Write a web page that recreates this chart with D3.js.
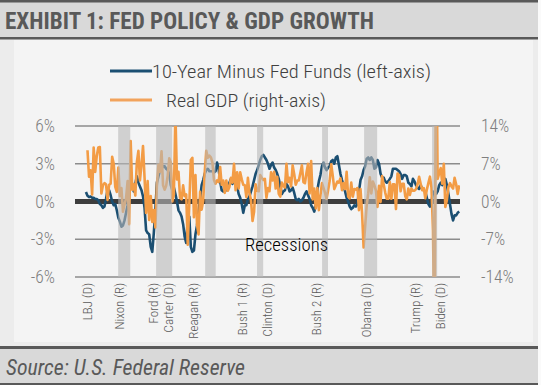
<!DOCTYPE html>
<html><head><meta charset="utf-8">
<script src="https://cdn.jsdelivr.net/npm/d3@7"></script>
<style>
html,body{margin:0;padding:0;background:#fafafa;}
svg{display:block;}
text{font-family:"Liberation Sans Narrow","Roboto Condensed","Arial Narrow",Roboto,sans-serif;}
</style></head>
<body><svg id="c" width="541" height="385"></svg>
<script>
// ---- data ----
const titleText = "EXHIBIT 1: FED POLICY & GDP GROWTH";
const sourceText = "Source: U.S. Federal Reserve";
const seriesNames = ["10-Year Minus Fed Funds (left-axis)", "Real GDP (right-axis)"];
const leftTicks = [6, 3, 0, -3, -6];
const rightTicks = [14, 7, 0, -7, -14];
// 10-year minus fed funds, quarterly, starting 1963 Q4 (%)
const spreadStart = 1963.75;
const spreadValues = [
 0.75,
 0.45,0.35,0.4,0.3, 0.3,0.2,0.2,0.1, -0.2,-0.3,-0.5,-0.4, 0.2,0.9,0.9,0.5,
 0.0,-0.3,-0.2,-0.7, -1.3,-1.6,-2.0,-1.9, -1.5,-0.9,-0.3,0.5, 1.8,1.4,0.8,1.4,
 2.0,1.5,1.2,0.9, 0.4,-0.5,-2.3,-2.5, -2.6,-3.6,-4.0,-2.5, -0.6,1.5,2.0,2.5,
 2.6,2.8,2.8,2.6, 2.5,2.2,1.3,0.9, 1.1,0.6,0.0,-0.7, -0.9,-1.2,-1.8,-2.8,
 -3.3,-1.4,-1.2,-3.6, -4.0,-3.9,-2.6,-1.9, -0.8,0.2,1.3,1.7, 2.2,2.5,2.6,2.4,
 2.4,2.4,2.3,2.4, 3.1,2.6,1.6,0.9, 0.8,1.0,0.9,1.2, 1.5,1.8,1.4,1.7,
 1.4,1.2,0.6,0.3, -0.2,-0.9,-0.3,-0.3, 0.2,0.4,0.8,1.2, 1.7,2.2,2.5,2.9,
 3.3,3.6,3.7,3.5, 3.3,3.0,2.6,2.9, 3.1,2.7,2.5,2.2, 1.8,1.2,0.6,0.8,
 0.9,1.4,1.2,0.8, 0.9,1.1,0.7,0.2, 0.1,0.2,0.0,0.1, 0.3,0.6,0.8,0.5,
 0.2,-0.3,-0.5,-0.8, -0.3,0.9,1.6,2.1, 2.8,3.1,2.7,2.5, 2.7,2.8,3.2,3.3,
 3.0,3.5,3.6,2.9, 2.2,1.7,1.3,0.8, 0.3,0.0,-0.4,-0.6, -0.5,-0.3,-0.4,-0.2,
 0.8,1.7,2.0,2.5, 2.8,3.4,3.5,3.3, 3.5,3.3,2.6,2.7, 3.3,3.0,2.2,1.9,
 1.9,1.6,1.5,1.6, 1.8,2.0,2.6,2.6, 2.6,2.5,2.4,2.2, 1.8,2.1,2.1,2.0,
 1.5,1.4,1.2,1.8, 1.6,1.3,1.1,1.0, 1.3,1.0,0.9,0.8, 0.3,-0.2,-0.4,-0.1,
 0.8,0.6,0.6,0.8, 1.3,1.5,1.3,1.5, 1.8,1.3,0.6,-0.2, -1.0,-1.5,-1.1,-1.1,
 -0.9,-0.8
];
// Real GDP growth, quarterly annualized, starting 1964 Q1 (%)
const gdpStart = 1964.0;
const gdpValues = [
 9.5,4.6,5.8,1.3, 10.0,5.5,8.4,10.0, 10.1,1.5,3.0,3.4, 3.2,0.3,3.1,3.3,
 8.3,7.0,2.7,1.8, 6.3,1.0,2.5,-1.9, -0.6,0.6,3.8,-4.2, 11.2,2.2,3.2,1.1,
 7.3,9.4,3.9,6.8, 10.3,4.4,-2.1,3.8, -3.4,1.0,-3.8,-1.6, -4.8,3.1,6.8,5.5,
 9.3,3.0,2.2,2.9, 4.8,8.0,7.3,0.0, 1.3,16.4,4.1,5.5, 0.7,0.4,3.0,1.0,
 1.3,-8.0,-0.5,7.7, 8.1,-2.9,4.9,-4.3, -6.1,1.8,-1.5,0.2, 5.4,9.4,8.1,8.5,
 8.2,7.2,4.0,3.3, 3.9,3.6,6.4,3.1, 3.9,1.6,3.9,2.0, 2.7,4.4,3.5,7.0,
 2.1,5.4,2.4,5.4, 4.1,3.1,3.0,0.8, 4.4,1.5,0.3,-3.6, -1.9,3.2,2.0,1.9,
 4.9,4.4,4.0,4.2, 0.7,2.5,1.9,5.4, 3.9,5.5,2.4,4.6, 1.4,0.9,3.5,2.9,
 2.6,7.0,3.6,4.4, 2.8,6.7,5.1,3.1, 3.9,3.9,5.3,6.7, 3.6,3.4,5.4,7.0,
 1.5,7.5,0.4,2.4, -1.3,2.5,-1.6,1.1, 3.4,2.5,1.6,0.5, 2.1,3.8,6.9,4.8,
 2.3,3.0,3.7,3.5, 4.3,2.1,3.4,2.3, 5.5,0.9,0.6,3.5, 0.9,2.3,2.2,2.5,
 -1.6,2.3,-2.1,-8.5, -4.6,-0.7,1.5,4.5, 1.5,3.7,3.0,2.0, -1.0,2.9,-0.1,4.7,
 3.2,1.7,0.5,0.5, 3.6,0.5,3.2,3.2, -1.4,5.2,4.9,1.9, 3.3,3.3,1.0,0.4,
 2.4,1.2,2.4,2.0, 2.0,2.3,3.2,4.6, 3.3,2.1,2.5,0.6, 2.2,3.4,4.6,2.6,
 -5.3,-28.0,34.8,4.2, 5.2,6.2,3.3,7.0, -1.0,0.3,2.7,3.4, 2.8,2.4,4.4,3.2,
 1.4,3.0
];
// shaded "Recessions" bands as drawn in the reference (decimal years)
const recessionStarts = [1969.1, 1975.25, 1983.2, 1991.6, 2002.15, 2008.96, 2019.98];
const recessionEnds   = [1971.05, 1977.85, 1984.9, 1992.6, 2003.1, 2011.07, 2020.8];
// presidents and inauguration dates
const presidentLabels = ["LBJ (D)","Nixon (R)","Ford (R)","Carter (D)","Reagan (R)","Bush 1 (R)","Clinton (D)","Bush 2 (R)","Obama (D)","Trump (R)","Biden (D)"];
const presidentDates  = [1963.9, 1969.05, 1974.6, 1977.05, 1981.05, 1989.05, 1993.05, 2001.05, 2009.05, 2017.05, 2021.05];

// ---- drawing ----
const svg = d3.select("#c");
const W = 541, H = 385;
const M = {left:75, right:460, top:126, bottom:277};

svg.append("rect").attr("width",W).attr("height",H).attr("fill","#fafafa");
svg.append("rect").attr("x",0).attr("y",0).attr("width",538).attr("height",H).attr("fill","#ececec");
svg.append("rect").attr("x",14).attr("y",40).attr("width",519).attr("height",302).attr("fill","#f4f4f4");

// title bar
svg.append("rect").attr("x",0).attr("y",0).attr("width",538).attr("height",39).attr("fill","#d9d9d9");
svg.append("rect").attr("x",0).attr("y",0).attr("width",538).attr("height",2.5).attr("fill","#595959");
svg.append("rect").attr("x",0).attr("y",37).attr("width",538).attr("height",2.5).attr("fill","#595959");
svg.append("text").attr("x",5).attr("y",29).attr("font-size",23).attr("font-weight","bold")
  .attr("fill","#595959").attr("textLength",369).attr("lengthAdjust","spacingAndGlyphs").text(titleText);

// source bar
svg.append("rect").attr("x",0).attr("y",346).attr("width",538).attr("height",39).attr("fill","#d9d9d9");
svg.append("rect").attr("x",0).attr("y",346).attr("width",538).attr("height",3).attr("fill","#595959");
svg.append("rect").attr("x",0).attr("y",383).attr("width",538).attr("height",2).attr("fill","#595959");
svg.append("text").attr("x",6).attr("y",375).attr("font-size",22).attr("font-style","italic")
  .attr("fill","#595959").attr("textLength",239).attr("lengthAdjust","spacingAndGlyphs").text(sourceText);

const blue = "#1b4f72", orange = "#f39c45";

// legend
const legend = [{c:blue, y:71, x:152, w:279, t:seriesNames[0]}, {c:"#f2a35c", y:100, x:166, w:160, t:seriesNames[1]}];
legend.forEach(d=>{
  svg.append("line").attr("x1",110).attr("x2",152).attr("y1",d.y).attr("y2",d.y)
    .attr("stroke",d.c).attr("stroke-width",3);
  svg.append("text").attr("x",d.x).attr("y",d.y+7).attr("font-size",19).attr("font-weight",300).attr("fill","#404040")
    .attr("textLength",d.w).attr("lengthAdjust","spacingAndGlyphs").text(d.t);
});

const x = d3.scaleLinear().domain([1962.1, 2024.5]).range([M.left, M.right]);
const yL = d3.scaleLinear().domain([-6, 6]).range([M.bottom, M.top]);
const yR = d3.scaleLinear().domain([-14, 14]).range([M.bottom, M.top]);

// gridlines
svg.append("g").selectAll("line").data(leftTicks.filter(v=>v!==0)).join("line")
  .attr("x1",M.left).attr("x2",M.right).attr("y1",d=>yL(d)).attr("y2",d=>yL(d))
  .attr("stroke","#8c8c8c").attr("stroke-width",1.5);
svg.append("line").attr("x1",M.left).attr("x2",M.right).attr("y1",yL(0)).attr("y2",yL(0))
  .attr("stroke","#3d3d3d").attr("stroke-width",5);

// axes labels
const axL = d3.axisLeft(yL).tickValues(leftTicks).tickFormat(d=>d+"%").tickSize(0).tickPadding(20);
const gL = svg.append("g").attr("transform",`translate(${M.left},0)`).call(axL);
gL.select(".domain").remove();
gL.selectAll("text").attr("font-size",17.5).attr("font-weight",300).attr("fill","#7f7f7f").attr("font-family",null);
const axR = d3.axisRight(yR).tickValues(rightTicks).tickFormat(d=>d+"%").tickSize(0).tickPadding(21);
const gR = svg.append("g").attr("transform",`translate(${M.right},0)`).call(axR);
gR.select(".domain").remove();
gR.selectAll("text").attr("font-size",17.5).attr("font-weight",300).attr("fill","#7f7f7f").attr("font-family",null);

// clip
svg.append("clipPath").attr("id","plotclip").append("rect")
  .attr("x",M.left).attr("y",M.top).attr("width",M.right-M.left).attr("height",M.bottom-M.top);
const plot = svg.append("g").attr("clip-path","url(#plotclip)");

const spreadData = spreadValues.map((v,i)=>({t:spreadStart+0.125+i*0.25, v}));
const gdpData = gdpValues.map((v,i)=>({t:gdpStart+0.125+i*0.25, v}));

plot.append("path").datum(spreadData).attr("fill","none").attr("stroke",blue).attr("stroke-width",2.6)
  .attr("stroke-linejoin","round")
  .attr("d", d3.line().x(d=>x(d.t)).y(d=>yL(d.v)));
plot.append("path").datum(gdpData).attr("fill","none").attr("stroke",orange).attr("stroke-width",2.6)
  .attr("stroke-linejoin","round")
  .attr("d", d3.line().x(d=>x(d.t)).y(d=>yR(d.v)));

// recession bands (semi-transparent, on top)
plot.append("g").selectAll("rect").data(recessionStarts.map((s,i)=>({s, e:recessionEnds[i]}))).join("rect")
  .attr("x",d=>x(d.s)).attr("width",d=>x(d.e)-x(d.s)).attr("y",M.top).attr("height",M.bottom-M.top)
  .attr("fill","#b8b8b8").attr("opacity",0.6);

svg.append("text").attr("x",245).attr("y",251).attr("font-size",18).attr("font-weight",300).attr("fill","#000000")
  .attr("textLength",83).attr("lengthAdjust","spacingAndGlyphs").text("Recessions");

// president labels
svg.append("g").selectAll("text").data(presidentLabels.map((l,i)=>({l, t:presidentDates[i]}))).join("text")
  .attr("transform",d=>`translate(${x(d.t)+6},283) rotate(-90)`)
  .attr("text-anchor","end").attr("font-size",13).attr("font-weight",300).attr("fill","#595959").text(d=>d.l);
</script></body></html>
